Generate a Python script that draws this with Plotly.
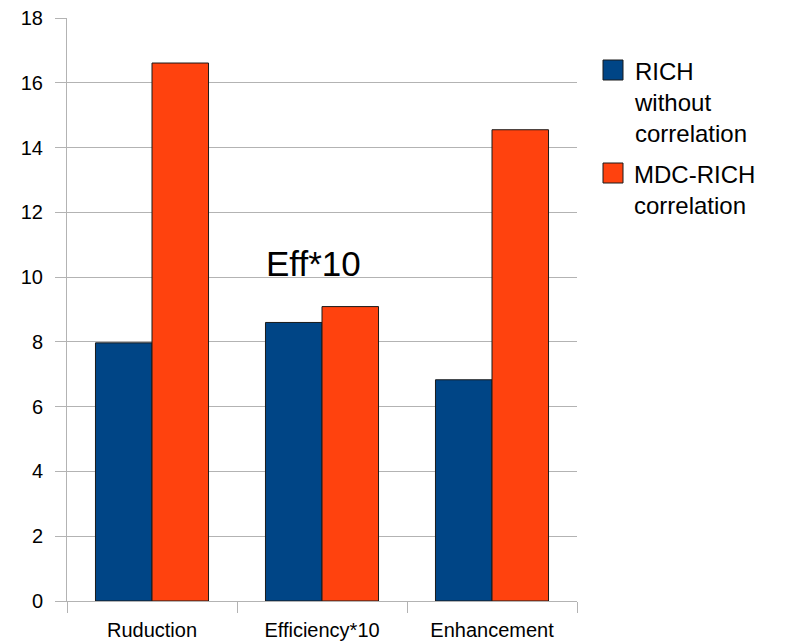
import plotly.graph_objects as go

categories = ["Ruduction", "Efficiency*10", "Enhancement"]
series_names = ["RICH<br>without<br>correlation", "MDC-RICH<br>correlation"]
rich_without = [7.97, 8.60, 6.83]
mdc_rich = [16.61, 9.09, 14.55]
series_colors = ["#004586", "#ff420e"]
y_ticks = [0, 2, 4, 6, 8, 10, 12, 14, 16, 18]

W, H = 793, 644
L, R, T, B = 67, 216, 18, 43
FONT = "Liberation Sans, Arial, sans-serif"


def px_x(p):
    return (p - L) / (W - L - R)


def px_y(p):
    return (H - B - p) / (H - T - B)


fig = go.Figure()
for name, vals, col in zip(series_names, [rich_without, mdc_rich], series_colors):
    fig.add_trace(go.Bar(
        x=categories, y=vals, name=name,
        marker=dict(color=col, line=dict(color="#1a1a1a", width=1)),
        showlegend=False,
    ))

# legend drawn by hand so the swatches keep their size
legend_rows = [60, 163]
for top, name, col in zip(legend_rows, series_names, series_colors):
    fig.add_shape(type="rect", xref="paper", yref="paper",
                  x0=px_x(603), x1=px_x(623), y0=px_y(top), y1=px_y(top + 20),
                  fillcolor=col, line=dict(color="#1a1a1a", width=1))
    fig.add_annotation(xref="paper", yref="paper", x=px_x(632), y=px_y(top - 4),
                       xanchor="left", yanchor="top", align="left",
                       text=name, showarrow=False,
                       font=dict(family=FONT, size=24, color="black"))

fig.add_annotation(xref="paper", yref="paper", x=px_x(313), y=px_y(263),
                   xanchor="center", yanchor="middle", text="Eff*10",
                   showarrow=False, font=dict(family=FONT, size=35, color="black"))

fig.update_layout(
    width=W, height=H,
    margin=dict(l=L, r=R, t=T, b=B, pad=0, autoexpand=False),
    paper_bgcolor="white", plot_bgcolor="white",
    barmode="group", bargap=0.335, bargroupgap=0,
    font=dict(family=FONT, size=20, color="black"),
    xaxis=dict(
        type="category", showline=True, linecolor="#b3b3b3", linewidth=1,
        ticks="outside", tickson="boundaries", ticklen=11, tickcolor="#b3b3b3",
        showgrid=False, zeroline=False, ticklabelstandoff=11, automargin=False,
        tickfont=dict(family=FONT, size=20, color="black"),
    ),
    yaxis=dict(
        range=[0, 18], tickvals=y_ticks, showline=True, linecolor="#b3b3b3",
        linewidth=1, ticks="outside", ticklen=11, tickcolor="#b3b3b3",
        showgrid=True, gridcolor="#b3b3b3", gridwidth=1, zeroline=False,
        ticklabelstandoff=8, automargin=False,
        tickfont=dict(family=FONT, size=20, color="black"),
    ),
)

fig.write_html("out.html")
